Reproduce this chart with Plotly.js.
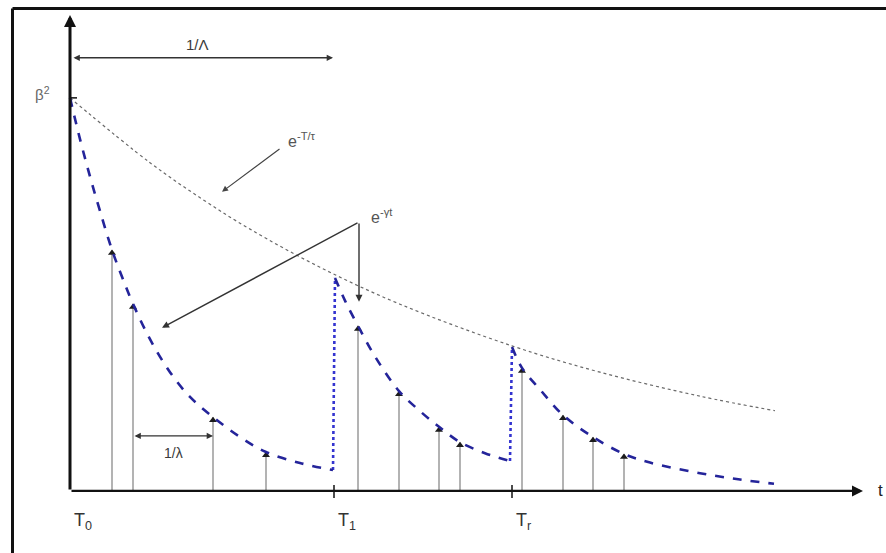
<!DOCTYPE html>
<html>
<head>
<meta charset="utf-8">
<script src="https://cdn.plot.ly/plotly-3.0.1.min.js"></script>
<style>html,body{margin:0;padding:0;background:#fff}#chart{width:886px;height:553px}</style>
</head>
<body>
<div id="chart"></div>
<script>
// ---- data (x in time units, y relative to beta^2 = 1) ----
const tickNames = ['T<sub>0</sub>', 'T<sub>1</sub>', 'T<sub>r</sub>'];
const tickPos = [0, 26.4, 44.2];

const seg1X = [0, 1, 2, 3, 4.2, 5.2, 6.3, 8, 10, 12, 14.3, 17, 19.6, 23, 26.3];
const seg1Y = [1.0, 0.895, 0.800, 0.712, 0.613, 0.545, 0.476, 0.386, 0.302, 0.239, 0.188, 0.137, 0.099, 0.071, 0.053];

const seg2X = [26.5, 27.5, 28.8, 30.5, 32.9, 35, 36.9, 39, 41.5, 44.0];
const seg2Y = [0.542, 0.484, 0.420, 0.342, 0.254, 0.203, 0.163, 0.124, 0.096, 0.076];

const seg3X = [44.2, 45.2, 47, 49.3, 52.3, 55.4, 58, 63, 67, 70.4];
const seg3Y = [0.366, 0.313, 0.258, 0.193, 0.137, 0.094, 0.072, 0.045, 0.029, 0.018];

const jumpX = [26.3, 26.5, null, 44.0, 44.2];
const jumpY = [0.053, 0.542, null, 0.076, 0.366];

const envX = [0, 8, 13.3, 18, 25, 33, 44.2, 53, 63, 70.5];
const envY = [1.0, 0.835, 0.741, 0.666, 0.569, 0.475, 0.369, 0.302, 0.241, 0.204];

const stemX = [4.2, 6.3, 14.3, 19.6, 28.8, 32.9, 36.9, 39.0, 45.2, 49.3, 52.3, 55.4];
const stemY = [0.613, 0.476, 0.188, 0.099, 0.420, 0.254, 0.163, 0.124, 0.313, 0.193, 0.137, 0.094];

// ---- build traces ----
const blue = '#24249a';
const sx = [], sy = [];
stemX.forEach((x, i) => { sx.push(x, x, null); sy.push(0, stemY[i], null); });

const traces = [
  {x: envX, y: envY, mode: 'lines', line: {color: '#6a6a6a', width: 1.2, dash: 'dot', shape: 'spline'}, hoverinfo: 'skip'},
  {x: sx, y: sy, mode: 'lines', line: {color: '#8a8a8a', width: 1.3}, hoverinfo: 'skip'},
  {x: stemX, y: stemY.map(v => v - 0.008), mode: 'markers', marker: {symbol: 'triangle-up', size: 7, color: '#1c1c1c'}, hoverinfo: 'skip'},
  {x: jumpX, y: jumpY, mode: 'lines', line: {color: '#3434d0', width: 2.6, dash: 'dot'}, hoverinfo: 'skip'},
  {x: seg1X, y: seg1Y, mode: 'lines', line: {color: blue, width: 2.6, dash: 'dash', shape: 'spline'}, hoverinfo: 'skip'},
  {x: seg2X, y: seg2Y, mode: 'lines', line: {color: blue, width: 2.6, dash: 'dash', shape: 'spline'}, hoverinfo: 'skip'},
  {x: seg3X, y: seg3Y, mode: 'lines', line: {color: blue, width: 2.6, dash: 'dash', shape: 'spline'}, hoverinfo: 'skip'}
];

const font = {family: 'Liberation Sans, Arial, sans-serif', color: '#3a3a3a', size: 14};
function f(size, color) { return Object.assign({}, font, {size: size, color: color || font.color}); }
function arrow(x0, y0, x1, y1, opts) {
  return Object.assign({x: x1, y: y1, ax: x0, ay: y0, xref: 'x', yref: 'y', axref: 'x', ayref: 'y',
    text: '', showarrow: true, arrowhead: 2, arrowsize: 1, arrowwidth: 1.3, arrowcolor: '#333'}, opts || {});
}
function label(x, y, text, opts) {
  return Object.assign({x: x, y: y, xref: 'x', yref: 'y', text: text, showarrow: false, font: font}, opts || {});
}

const annotations = [
  // axes
  arrow(0, 0, 0, 1.211, {arrowwidth: 3, arrowcolor: '#111', arrowsize: 0.8}),
  arrow(0, 0, 79.3, 0, {arrowwidth: 2.2, arrowcolor: '#111', arrowsize: 1}),
  label(81.0, 0, 't', {font: f(17, '#222')}),
  label(-2.8, 1.01, 'β<sup>2</sup>', {font: f(15, '#666')}),
  // 1/Λ
  arrow(0.2, 1.102, 26.3, 1.102, {arrowside: 'end+start', arrowwidth: 1.4, arrowsize: 0.9}),
  label(12.7, 1.137, '1/Λ', {font: f(15)}),
  // 1/λ
  arrow(6.3, 0.140, 14.3, 0.140, {arrowside: 'end+start', arrowwidth: 1.4, arrowsize: 0.9}),
  label(10.3, 0.097, '1/λ', {font: f(14)}),
  // e^{-T/tau}
  label(21.6, 0.893, 'e<sup>-T/τ</sup>', {xanchor: 'left', font: f(16, '#555')}),
  arrow(21.1, 0.873, 15.2, 0.761, {arrowwidth: 1.2, arrowcolor: '#444'}),
  // e^{-gamma t}
  label(29.9, 0.700, 'e<sup>-γt</sup>', {xanchor: 'left', font: f(16, '#555')}),
  arrow(28.9, 0.684, 9.2, 0.415, {arrowwidth: 1.4, arrowcolor: '#333'}),
  arrow(28.9, 0.684, 28.9, 0.481, {arrowwidth: 1.4, arrowcolor: '#333'})
];
tickNames.forEach((t, i) => {
  annotations.push(label(tickPos[i] + 0.2, -0.078, t, {xanchor: 'left', font: f(18, '#333')}));
});

const frameTop = 1 - 8.5 / 553, frameLeft = 12.5 / 886;
const shapes = [
  {type: 'line', xref: 'paper', yref: 'paper', x0: frameLeft, x1: 1.2, y0: frameTop, y1: frameTop, line: {color: '#111', width: 3}},
  {type: 'line', xref: 'paper', yref: 'paper', x0: frameLeft, x1: frameLeft, y0: frameTop, y1: -0.2, line: {color: '#111', width: 3}},
  {type: 'line', xref: 'x', yref: 'y', x0: 0, x1: 0.7, y0: 1.0, y1: 1.0, line: {color: '#111', width: 1.5}}
];
[1, 2].forEach(i => {
  shapes.push({type: 'line', xref: 'x', yref: 'y', x0: tickPos[i], x1: tickPos[i], y0: 0.015, y1: -0.018,
    line: {color: '#111', width: 1.5}});
});

const layout = {
  width: 886, height: 553,
  margin: {l: 0, r: 0, t: 0, b: 0},
  paper_bgcolor: '#fff', plot_bgcolor: '#fff',
  showlegend: false,
  xaxis: {range: [-7, 81.6], visible: false, fixedrange: true},
  yaxis: {range: [-0.158, 1.249], visible: false, fixedrange: true},
  annotations: annotations,
  shapes: shapes
};

Plotly.newPlot('chart', traces, layout, {displayModeBar: false, staticPlot: true});
</script>
</body>
</html>
